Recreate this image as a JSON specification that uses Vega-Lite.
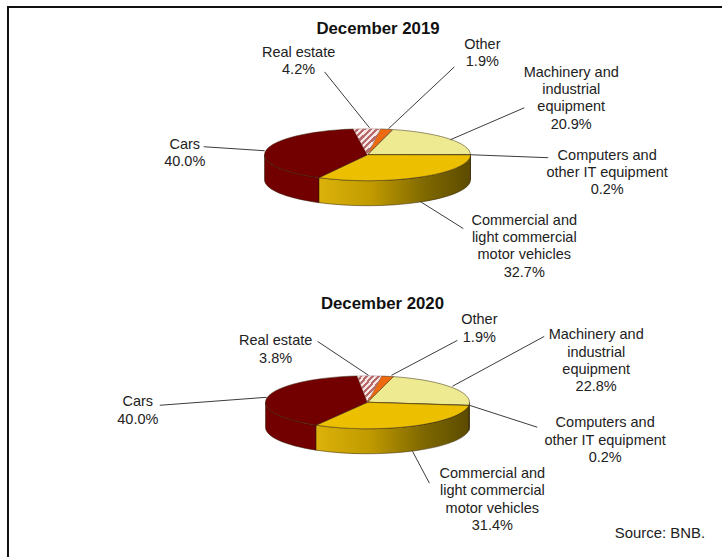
{"$schema":"https://vega.github.io/schema/vega-lite/v6.json","width":723,"height":558,"padding":0,"autosize":{"type":"fit","contains":"padding"},"background":"white","config":{"view":{"stroke":null}},
"data":{"values":[
{"panel":"December 2019","slice":"Machinery","order":1,"share":20.9,"label":"Machinery and\nindustrial\nequipment"},
{"panel":"December 2019","slice":"Computers","order":2,"share":0.2,"label":"Computers  and\nother IT equipment"},
{"panel":"December 2019","slice":"Commercial","order":3,"share":32.7,"label":"Commercial and\nlight commercial\nmotor vehicles"},
{"panel":"December 2019","slice":"Cars","order":4,"share":40.0,"label":"Cars"},
{"panel":"December 2019","slice":"Real estate","order":5,"share":4.2,"label":"Real estate"},
{"panel":"December 2019","slice":"Other","order":6,"share":1.9,"label":"Other"},
{"panel":"December 2020","slice":"Machinery","order":1,"share":22.8,"label":"Machinery and\nindustrial\nequipment"},
{"panel":"December 2020","slice":"Computers","order":2,"share":0.2,"label":"Computers  and\nother IT equipment"},
{"panel":"December 2020","slice":"Commercial","order":3,"share":31.4,"label":"Commercial and\nlight commercial\nmotor vehicles"},
{"panel":"December 2020","slice":"Cars","order":4,"share":40.0,"label":"Cars"},
{"panel":"December 2020","slice":"Real estate","order":5,"share":3.8,"label":"Real estate"},
{"panel":"December 2020","slice":"Other","order":6,"share":1.9,"label":"Other"}
]},
"transform":[
{"window":[{"op":"sum","field":"share","as":"cum"}],"sort":[{"field":"order"}],"groupby":["panel"]},
{"calculate":"14.4+datum.cum*3.6","as":"t1"},
{"calculate":"datum.t1-datum.share*3.6","as":"t0"},
{"calculate":"datum.panel+'|'+datum.slice","as":"key"},
{"calculate":"368","as":"cx"},
{"calculate":"datum.panel=='December 2019'?155:403","as":"cy"},
{"calculate":"datum.panel=='December 2019'?103:102","as":"rx"},
{"calculate":"datum.panel=='December 2019'?26:26.5","as":"ry"},
{"calculate":"25","as":"depth"},
{"calculate":"round(100*datum.rx*sin(datum.t0*PI/180))/100+','+round(-100*datum.ry*cos(datum.t0*PI/180))/100","as":"p0"},
{"calculate":"round(100*datum.rx*sin(datum.t1*PI/180))/100+','+round(-100*datum.ry*cos(datum.t1*PI/180))/100","as":"p1"},
{"calculate":"'M0,0L'+datum.p0+'A'+datum.rx+','+datum.ry+' 0 '+(datum.t1-datum.t0>180?1:0)+' 1 '+datum.p1+'Z'","as":"topPath"},
{"calculate":"max(datum.t0,90)*PI/180","as":"w0"},
{"calculate":"min(datum.t1,270)*PI/180","as":"w1"},
{"calculate":"round(100*datum.rx*sin(datum.w0))/100","as":"wx0"},
{"calculate":"round(100*datum.rx*sin(datum.w1))/100","as":"wx1"},
{"calculate":"round(-100*datum.ry*cos(datum.w0))/100","as":"wy0"},
{"calculate":"round(-100*datum.ry*cos(datum.w1))/100","as":"wy1"},
{"calculate":"'M'+datum.wx0+','+datum.wy0+'A'+datum.rx+','+datum.ry+' 0 0 1 '+datum.wx1+','+datum.wy1+'L'+datum.wx1+','+(datum.wy1+datum.depth)+'A'+datum.rx+','+datum.ry+' 0 0 0 '+datum.wx0+','+(datum.wy0+datum.depth)+'Z'","as":"wallPath"}
],
"encoding":{
"x":{"field":"cx","type":"quantitative","scale":{"domain":[0,723]},"axis":null},
"y":{"field":"cy","type":"quantitative","scale":{"domain":[0,558],"reverse":true},"axis":null}
},
"layer":[
{"data":{"values":[{"side":"top"},{"side":"left"}]},
"transform":[{"calculate":"datum.side=='top'?7:8","as":"fx"},{"calculate":"datum.side=='top'?723:8","as":"fx2"},{"calculate":"datum.side=='top'?7:7","as":"fy"},{"calculate":"datum.side=='top'?7:558","as":"fy2"}],
"mark":{"type":"rule","color":"#111111","strokeWidth":2},
"encoding":{"x":{"field":"fx","type":"quantitative"},"x2":{"field":"fx2"},"y":{"field":"fy","type":"quantitative"},"y2":{"field":"fy2"}}},
{"transform":[{"filter":"datum.w1>datum.w0 && datum.slice!='Commercial'"},{"calculate":"datum.slice+' wall'","as":"part"}],
"mark":{"type":"point","filled":true,"opacity":1,"stroke":"#2a1a00","strokeWidth":0.5},
"encoding":{"shape":{"field":"wallPath","type":"nominal","scale":null,"legend":null},"size":{"value":4},
"color":{"field":"part","type":"nominal","legend":null,"scale":{"domain":["Machinery wall","Computers wall","Cars wall","Machinery","Computers","Commercial","Cars","Other"],"range":["#6a5800","#6a5800","#720000","#eeea92","#eeea92","#ecc000","#720000","#ee6a10"]}}}},
{"transform":[{"filter":"datum.slice=='Commercial'"}],
"mark":{"type":"point","filled":true,"opacity":1,"stroke":"#2a1a00","strokeWidth":0.5,"fill":{"gradient":"linear","x1":0,"y1":0,"x2":1,"y2":0,"stops":[{"offset":0,"color":"#dcb20a"},{"offset":0.35,"color":"#c09a00"},{"offset":0.7,"color":"#7f6800"},{"offset":1,"color":"#5c4b00"}]}},
"encoding":{"shape":{"field":"wallPath","type":"nominal","scale":null,"legend":null},"size":{"value":4}}},
{"transform":[{"filter":"datum.slice!='Real estate'"},{"calculate":"datum.slice","as":"part"}],
"mark":{"type":"point","filled":true,"opacity":1,"stroke":"#3a2a10","strokeWidth":0.5},
"encoding":{"shape":{"field":"topPath","type":"nominal","scale":null,"legend":null},"size":{"value":4},
"color":{"field":"part","type":"nominal","legend":null,"scale":{"domain":["Machinery wall","Computers wall","Cars wall","Machinery","Computers","Commercial","Cars","Other"],"range":["#6a5800","#6a5800","#720000","#eeea92","#eeea92","#ecc000","#720000","#ee6a10"]}}}},
{"transform":[{"filter":"datum.slice=='Real estate'"}],
"mark":{"type":"point","filled":true,"opacity":1,"stroke":"#a08080","strokeWidth":0.4,"fill":{"gradient":"linear","x1":0,"y1":0,"x2":1,"y2":1,"stops":[{"offset":0,"color":"#f6e6e6"},{"offset":0.06,"color":"#f6e6e6"},{"offset":0.06,"color":"#b86a6a"},{"offset":0.12,"color":"#b86a6a"},{"offset":0.12,"color":"#f6e6e6"},{"offset":0.18,"color":"#f6e6e6"},{"offset":0.18,"color":"#b86a6a"},{"offset":0.24,"color":"#b86a6a"},{"offset":0.24,"color":"#f6e6e6"},{"offset":0.3,"color":"#f6e6e6"},{"offset":0.3,"color":"#b86a6a"},{"offset":0.36,"color":"#b86a6a"},{"offset":0.36,"color":"#f6e6e6"},{"offset":0.42,"color":"#f6e6e6"},{"offset":0.42,"color":"#b86a6a"},{"offset":0.48,"color":"#b86a6a"},{"offset":0.48,"color":"#f6e6e6"},{"offset":0.54,"color":"#f6e6e6"},{"offset":0.54,"color":"#b86a6a"},{"offset":0.6,"color":"#b86a6a"},{"offset":0.6,"color":"#f6e6e6"},{"offset":0.66,"color":"#f6e6e6"},{"offset":0.66,"color":"#b86a6a"},{"offset":0.72,"color":"#b86a6a"},{"offset":0.72,"color":"#f6e6e6"},{"offset":0.78,"color":"#f6e6e6"},{"offset":0.78,"color":"#b86a6a"},{"offset":0.84,"color":"#b86a6a"},{"offset":0.84,"color":"#f6e6e6"},{"offset":0.9,"color":"#f6e6e6"},{"offset":0.9,"color":"#b86a6a"},{"offset":0.96,"color":"#b86a6a"},{"offset":0.96,"color":"#f6e6e6"},{"offset":1,"color":"#f6e6e6"}]}},
"encoding":{"shape":{"field":"topPath","type":"nominal","scale":null,"legend":null},"size":{"value":4}}},
{"transform":[{"calculate":"{'December 2019|Machinery':[525,108,451,140],'December 2019|Computers':[549,158,471,155],'December 2019|Commercial':[464,229,421,202],'December 2019|Cars':[204,147,265,151],'December 2019|Real estate':[325,72,370,128],'December 2019|Other':[455,67,389,129],'December 2020|Machinery':[545,337,453,387],'December 2020|Computers':[538,428,470,406],'December 2020|Commercial':[430,484,413,452],'December 2020|Cars':[160,406,267,398],'December 2020|Real estate':[318,342,369,376],'December 2020|Other':[458,341,392,376]}[datum.key]","as":"leader"},{"calculate":"datum.leader[0]","as":"lx"},{"calculate":"datum.leader[1]","as":"ly"},{"calculate":"datum.leader[2]","as":"lx2"},{"calculate":"datum.leader[3]","as":"ly2"}],
"mark":{"type":"rule","color":"#3c3c3c","strokeWidth":1},
"encoding":{"x":{"field":"lx","type":"quantitative"},"x2":{"field":"lx2"},"y":{"field":"ly","type":"quantitative"},"y2":{"field":"ly2"}}},
{"transform":[{"calculate":"{'December 2019|Machinery':[572,66],'December 2019|Computers':[608,149],'December 2019|Commercial':[525,214],'December 2019|Cars':[185,138],'December 2019|Real estate':[299,46],'December 2019|Other':[483,38],'December 2020|Machinery':[597,329],'December 2020|Computers':[606,417],'December 2020|Commercial':[493,468],'December 2020|Cars':[138,396],'December 2020|Real estate':[276,335],'December 2020|Other':[480,314]}[datum.key]","as":"pos"},{"calculate":"datum.pos[0]","as":"tx"},{"calculate":"datum.pos[1]","as":"ty"},{"calculate":"datum.label+'\\n'+format(datum.share,'.1f')+'%'","as":"txt"}],
"mark":{"type":"text","font":"Liberation Sans","fontSize":14.5,"color":"#222222","align":"center","baseline":"top","lineBreak":"\n","lineHeight":17.3},
"encoding":{"x":{"field":"tx","type":"quantitative"},"y":{"field":"ty","type":"quantitative"},"text":{"field":"txt","type":"nominal"}}},
{"transform":[{"aggregate":[{"op":"count","as":"n"}],"groupby":["panel"]},{"calculate":"datum.panel=='December 2019'?378.5:383","as":"tx"},{"calculate":"datum.panel=='December 2019'?29:305","as":"ty"}],
"mark":{"type":"text","font":"Liberation Sans","fontSize":16.8,"fontWeight":"bold","color":"#111111","align":"center","baseline":"middle"},
"encoding":{"x":{"field":"tx","type":"quantitative"},"y":{"field":"ty","type":"quantitative"},"text":{"field":"panel","type":"nominal"}}},
{"data":{"values":[{"note":"Source: BNB."}]},
"transform":[{"calculate":"706","as":"tx"},{"calculate":"535","as":"ty"}],
"mark":{"type":"text","font":"Liberation Sans","fontSize":14.9,"color":"#222222","align":"right","baseline":"middle"},
"encoding":{"x":{"field":"tx","type":"quantitative"},"y":{"field":"ty","type":"quantitative"},"text":{"field":"note","type":"nominal"}}}
]}
